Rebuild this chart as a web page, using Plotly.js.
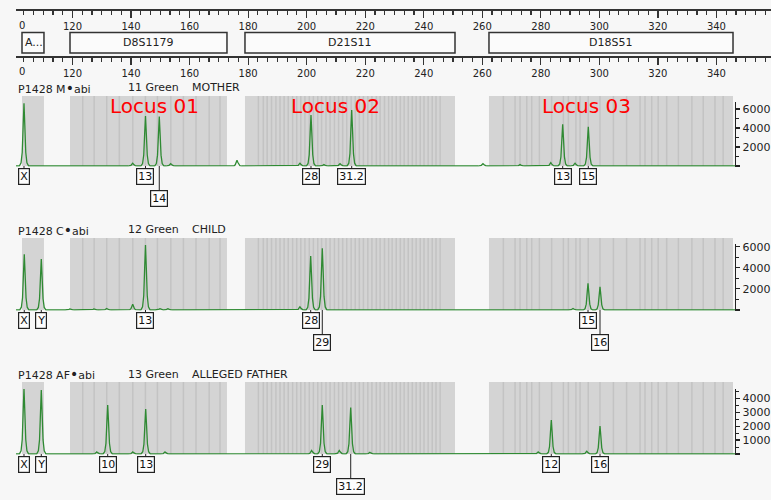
<!DOCTYPE html>
<html><head><meta charset="utf-8">
<script src="https://cdn.plot.ly/plotly-3.0.1.min.js"></script>
<style>html,body{margin:0;padding:0;background:#f7f7f7}#chart{width:771px;height:500px}</style>
</head><body><div id="chart"></div>
<script>
// ---------- data ----------
const lociNames = ['A...', 'D8S1179', 'D21S11', 'D18S51'];
const lociStart = [102.75, 119.15, 178.93, 262.29];
const lociEnd   = [110.26, 172.78, 250.68, 345.66];
const locusTitles = ['Locus 01', 'Locus 02', 'Locus 03'];

const binsD8  = [123.5, 127.4, 131.7, 136.0, 140.6, 144.9, 149.0, 153.6, 157.9, 162.2, 166.7, 170.4];
const binsD21 = [183.5, 185.2, 186.5, 188.0, 189.5, 190.9, 192.3, 193.7, 195.2, 196.6, 198.0, 199.4, 200.9,
                 202.3, 203.8, 205.1, 206.6, 208.0, 209.5, 210.9, 212.3, 213.7, 215.2, 216.6, 218.0, 219.4,
                 220.9, 222.3, 223.8, 225.1, 226.6, 228.0, 229.2, 230.6, 232.0, 233.3, 234.7, 236.1, 237.4,
                 238.8, 240.1, 241.5, 242.9, 244.2, 245.6];
const binsD18 = [267.2, 271.2, 272.9, 275.2, 276.9, 279.5, 283.7, 287.7, 289.4, 292.0, 293.4, 296.2, 300.2,
                 304.8, 309.3, 313.9, 315.6, 317.9, 320.1, 323.0, 327.0, 331.6, 335.5, 339.5, 342.3];

// sample names / headers
const sampleIds   = ['P1428 M<span style="font-size:14px">\u2022</span>abi', 'P1428 C<span style="font-size:14px">\u2022</span>abi', 'P1428 AF<span style="font-size:14px">\u2022</span>abi'];
const sampleDyes  = ['11 Green', '12 Green', '13 Green'];
const sampleRoles = ['MOTHER', 'CHILD', 'ALLEGED FATHER'];

// peaks (size in bp, height in RFU)
const motherPeakPos    = [103.43, 140.57, 144.94, 149.65, 153.55, 176.2, 197.72, 201.48, 205.9, 211.4, 215.39, 260.24, 272.9, 283.4, 287.47, 291.7, 296.22];
const motherPeakHeight = [6600,   300,    5260,   5200,   250,    600,   300,    5370,   150,   250,   5900,   250,    150,   350,   4390,   300,   4140];
const childPeakPos     = [103.53, 109.34, 119.1, 127.3, 131.7, 140.57, 144.94, 149.9, 152.6, 197.7, 201.38, 205.34, 291.0, 296.12, 300.22];
const childPeakHeight  = [5280,   4830,   100,   100,   150,   550,    6160,   120,   120,   300,   5120,   5850,   150,   2530,   2210];
const fatherPeakPos    = [103.43, 109.34, 128.3, 132.03, 140.6, 145.01, 151.6, 201.7, 205.34, 211.15, 215.05, 221.6, 279.1, 283.58, 295.7, 300.22];
const fatherPeakHeight = [4720,   4600,   150,   3520,   150,   3230,   150,   250,   3520,   250,    3330,   120,   150,   2440,   200,   2010];

// allele calls
const motherAlleles   = ['X', '13', '14', '28', '31.2', '13', '15'];
const motherAllelePos = [103.43, 144.94, 149.65, 201.48, 215.39, 287.47, 296.22];
const motherAlleleRow = [0, 0, 1, 0, 0, 0, 0];
const childAlleles    = ['X', 'Y', '13', '28', '29', '15', '16'];
const childAllelePos  = [103.53, 109.34, 144.94, 201.38, 205.34, 296.12, 300.22];
const childAlleleRow  = [0, 0, 0, 0, 1, 0, 1];
const fatherAlleles   = ['X', 'Y', '10', '13', '29', '31.2', '12', '16'];
const fatherAllelePos = [103.43, 109.34, 132.03, 145.01, 205.34, 215.05, 283.58, 300.22];
const fatherAlleleRow = [0, 0, 0, 0, 0, 1, 0, 0];

// y-axis ticks
const yTicks1 = [0, 2000, 4000, 6000];
const yTicks3 = [0, 1000, 2000, 3000, 4000];

// ---------- helpers ----------
const W = 771, H = 500;
const fx = p => p / W;
const fy = p => 1 - p / H;
const FONT = 'DejaVu Sans';
const GREEN = '#2f8a33';

const peakDx  = [-1.6, -1.0, -0.6, -0.28, 0, 0.28, 0.6, 1.0, 1.6];
const peakRel = [0, 0.05, 0.22, 0.65, 1, 0.65, 0.22, 0.05, 0];

function traceFromPeaks(pos, h, xa, ya, xmin, xmax) {
  const x = [xmin], y = [0];
  pos.forEach((p, i) => {
    peakDx.forEach((d, k) => { x.push(p + d); y.push(h[i] * peakRel[k]); });
  });
  x.push(xmax); y.push(0);
  return {type: 'scatter', mode: 'lines', x, y, xaxis: xa, yaxis: ya,
          line: {color: GREEN, width: 1.3}, hoverinfo: 'skip', showlegend: false};
}

const panelRange = [100.70, 346.34];
const rulerRange = [100.70, 358.64];

const panels = [
  {xa: 'x3', ya: 'y3', pos: motherPeakPos, h: motherPeakHeight, al: motherAlleles, ap: motherAllelePos, ar: motherAlleleRow,
   top: 96, base: 166, axTop: 101.5, range: [-50, 6790], ticks: yTicks1, minor: 1000, head: 88},
  {xa: 'x4', ya: 'y4', pos: childPeakPos, h: childPeakHeight, al: childAlleles, ap: childAllelePos, ar: childAlleleRow,
   top: 238, base: 310, axTop: 243.5, range: [-47, 6303], ticks: yTicks1, minor: 1000, head: 230},
  {xa: 'x5', ya: 'y5', pos: fatherPeakPos, h: fatherPeakHeight, al: fatherAlleles, ap: fatherAllelePos, ar: fatherAlleleRow,
   top: 382, base: 454, axTop: 389, range: [-36, 4670], ticks: yTicks3, minor: 500, head: 374}
];

const traces = [
  {type: 'scatter', x: [], y: [], xaxis: 'x', yaxis: 'y', showlegend: false},
  {type: 'scatter', x: [], y: [], xaxis: 'x2', yaxis: 'y2', showlegend: false}
];
const shapes = [];
const annotations = [];

const layout = {
  width: W, height: H,
  margin: {l: 0, r: 0, t: 0, b: 0},
  paper_bgcolor: '#f7f7f7', plot_bgcolor: 'rgba(0,0,0,0)',
  showlegend: false,
  font: {family: FONT, color: '#222'}
};

function rulerAxis(yid) {
  return {
    anchor: yid, domain: [fx(16), 1], range: rulerRange, side: 'bottom',
    showline: true, linecolor: '#333', linewidth: 1.5,
    ticks: 'outside', ticklen: 7, tickwidth: 1.2, tickcolor: '#333',
    tick0: 0, dtick: 20, showgrid: false, zeroline: false,
    tickfont: {family: FONT, size: 10, color: '#222'},
    minor: {ticks: 'outside', ticklen: 4, tickwidth: 1.2, tickcolor: '#333', tick0: 0, dtick: 20 / 6, showgrid: false},
    fixedrange: true
  };
}
layout.xaxis = rulerAxis('y');
layout.yaxis = {domain: [fy(9), 1], visible: false, anchor: 'x', fixedrange: true};
layout.xaxis2 = rulerAxis('y2');
layout.yaxis2 = {domain: [fy(56), fy(54)], visible: false, anchor: 'x2', fixedrange: true};

// clipped "100" labels on rulers
[25, 71.3].forEach(yy => annotations.push({xref: 'paper', yref: 'paper', x: fx(21.5), y: fy(yy),
  text: '0', showarrow: false, xanchor: 'center', yanchor: 'middle', font: {family: FONT, size: 10, color: '#222'}}));

// locus boxes
lociNames.forEach((n, i) => {
  shapes.push({type: 'rect', xref: 'x2', yref: 'paper', x0: lociStart[i], x1: lociEnd[i], y0: fy(53), y1: fy(32.5),
    fillcolor: '#fbfbfb', line: {color: '#333', width: 1.5}});
  const left = i === 0;
  annotations.push({xref: 'x2', yref: 'paper', x: left ? lociStart[i] + 0.3 : (lociStart[i] + lociEnd[i]) / 2, y: fy(42.8),
    text: n, showarrow: false, xanchor: left ? 'left' : 'center', yanchor: 'middle',
    font: {family: FONT, size: 11, color: '#222'}});
});

panels.forEach((p, k) => {
  const xn = p.xa.replace('x', 'xaxis'), yn = p.ya.replace('y', 'yaxis');
  layout[xn] = {domain: [fx(16), fx(735)], range: panelRange, anchor: p.ya, visible: false, fixedrange: true};
  const tt = p.ticks.map(v => v === 0 ? '' : String(v));
  layout[yn] = {domain: [fy(p.base + 0.5), fy(p.axTop)], range: p.range, anchor: p.xa, side: 'right',
    showline: true, linecolor: '#222', linewidth: 1.3, ticks: 'outside', ticklen: 4, tickwidth: 1.2, tickcolor: '#222',
    tickvals: p.ticks, ticktext: tt, tickfont: {family: FONT, size: 11, color: '#222'},
    minor: {ticks: 'outside', ticklen: 2.5, tickwidth: 1, tickcolor: '#222', dtick: p.minor, tick0: 0, showgrid: false},
    showgrid: false, zeroline: false, fixedrange: true};
  // shaded locus regions
  lociStart.forEach((s, i) => {
    shapes.push({type: 'rect', xref: p.xa, yref: 'paper', x0: s, x1: lociEnd[i], y0: fy(p.base), y1: fy(p.top),
      fillcolor: '#d4d4d4', line: {width: 0}, layer: 'below'});
  });
  [binsD8, binsD21, binsD18].forEach(bins => bins.forEach(b => {
    shapes.push({type: 'line', xref: p.xa, yref: 'paper', x0: b, x1: b, y0: fy(p.base), y1: fy(p.top),
      line: {color: '#c3c3c3', width: 1.5}, layer: 'below'});
  }));
  traces.push(traceFromPeaks(p.pos, p.h, p.xa, p.ya, panelRange[0], panelRange[1]));
  // allele labels
  p.al.forEach((a, i) => {
    annotations.push({xref: p.xa, yref: p.ya, x: p.ap[i], y: 0, text: a, showarrow: true, arrowhead: 0,
      arrowwidth: 1, arrowcolor: '#222', ax: 0, ay: p.ar[i] ? 24 : 2, yanchor: 'top', standoff: 0,
      font: {family: FONT, size: 11, color: '#111'}, bordercolor: '#222', borderwidth: 1.2, borderpad: 1,
      bgcolor: '#fdfdfd'});
  });
  // headers
  const hx = [18, 128, 192];
  [sampleIds[k], sampleDyes[k], sampleRoles[k]].forEach((t, j) => {
    annotations.push({xref: 'paper', yref: 'paper', x: fx(hx[j] - 2), y: fy(p.head), text: t, showarrow: false,
      xanchor: 'left', yanchor: 'middle', font: {family: FONT, size: 11, color: '#222'}});
  });
});

// locus titles
const titleX = [154.5, 335, 586.7];
locusTitles.forEach((t, i) => annotations.push({xref: 'paper', yref: 'paper', x: fx(titleX[i]), y: fy(106),
  text: t, showarrow: false, xanchor: 'center', yanchor: 'middle', font: {family: FONT, size: 20, color: '#ff0000'}}));

layout.shapes = shapes;
layout.annotations = annotations;

Plotly.newPlot('chart', traces, layout, {displayModeBar: false, staticPlot: true});
</script></body></html>
